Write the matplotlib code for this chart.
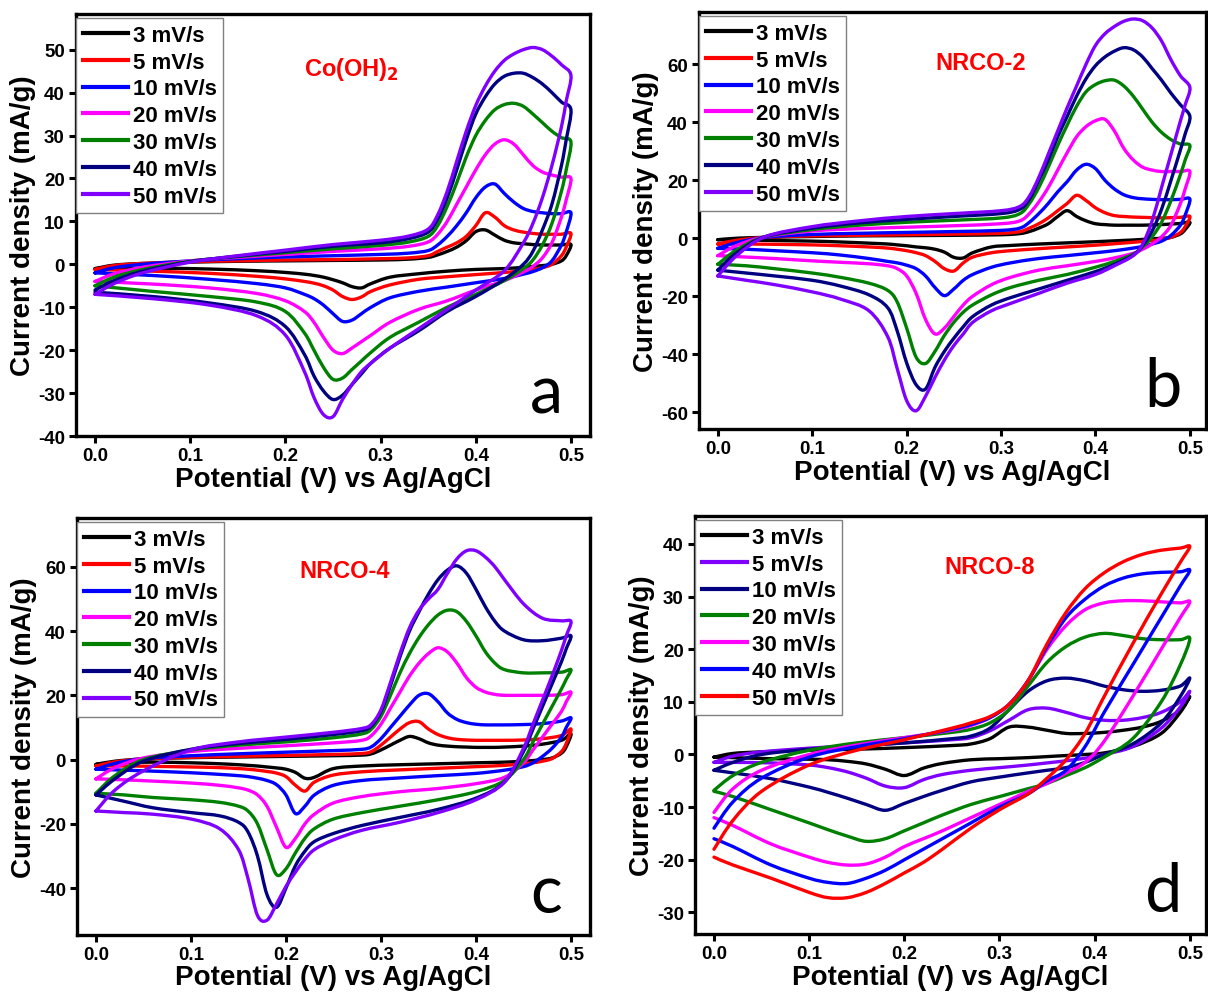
import matplotlib
matplotlib.use("Agg")
import matplotlib.pyplot as plt
from matplotlib.ticker import FormatStrFormatter
from matplotlib.path import Path
from matplotlib.patches import PathPatch
from matplotlib.lines import Line2D

plt.rcParams['font.family'] = ['Liberation Sans', 'DejaVu Sans']
plt.rcParams['font.weight'] = 'bold'
plt.rcParams['axes.unicode_minus'] = False

rates = ['3 mV/s', '5 mV/s', '10 mV/s', '20 mV/s', '30 mV/s', '40 mV/s', '50 mV/s']
colors_abc = ['#000000', '#ff0000', '#0000ff', '#ff00ff', '#008000', '#000080', '#7f00ff']
colors_d = ['#000000', '#7f00ff', '#000080', '#008000', '#ff00ff', '#0000ff', '#ff0000']

# ---- (a) Co(OH)2 ----
a_fwd_x = [0.0, 0.02, 0.05, 0.1, 0.15, 0.2, 0.25, 0.3, 0.33, 0.35, 0.36, 0.37, 0.38,
           0.39, 0.40, 0.41, 0.42, 0.43, 0.44, 0.45, 0.46, 0.47, 0.48, 0.49, 0.5]
a_rev_x = [0.5, 0.495, 0.49, 0.48, 0.47, 0.46, 0.45, 0.43, 0.4, 0.37, 0.34, 0.31, 0.29,
           0.28, 0.27, 0.26, 0.25, 0.24, 0.23, 0.22, 0.2, 0.17, 0.12, 0.06, 0.0]
a_fwd = [
    [-1.0, -0.2, 0.2, 0.5, 0.7, 0.8, 0.9, 1.0, 1.2, 1.6, 2.2, 3.0, 4.0, 5.5, 7.6, 8.0, 6.8, 5.6, 5.0, 4.8, 4.6, 4.5, 4.5, 4.5, 4.6],
    [-1.2, -0.3, 0.2, 0.6, 0.8, 1.0, 1.1, 1.3, 1.5, 2.0, 3.0, 4.0, 5.0, 6.5, 9.0, 12.0, 11.0, 9.0, 8.0, 7.5, 7.2, 7.0, 7.0, 7.0, 7.2],
    [-2.0, -0.8, 0.0, 0.8, 1.3, 1.7, 2.0, 2.3, 2.6, 3.2, 4.5, 6.5, 9.0, 12.0, 15.5, 18.0, 18.7, 16.5, 14.5, 13.0, 12.3, 12.0, 11.8, 11.8, 12.0],
    [-4.0, -2.2, -0.7, 0.8, 1.6, 2.3, 3.0, 3.6, 4.2, 5.2, 7.0, 10.0, 14.0, 18.0, 22.0, 25.5, 28.0, 29.0, 28.0, 25.5, 23.0, 21.5, 20.8, 20.3, 20.0],
    [-5.0, -3.0, -1.2, 0.7, 1.8, 2.7, 3.6, 4.4, 5.2, 6.5, 9.0, 13.5, 19.0, 25.0, 30.0, 33.5, 36.0, 37.2, 37.5, 36.8, 35.0, 33.0, 31.0, 29.5, 28.5],
    [-6.0, -3.8, -1.6, 0.6, 1.9, 3.0, 4.2, 5.0, 6.0, 7.5, 10.5, 15.5, 22.0, 29.0, 35.0, 39.0, 42.0, 43.8, 44.5, 44.5, 43.5, 42.0, 40.0, 37.8, 36.0],
    [-7.0, -4.5, -2.0, 0.5, 2.0, 3.3, 4.6, 5.6, 6.6, 8.2, 11.5, 17.0, 24.0, 31.0, 37.0, 41.5, 45.0, 47.5, 49.0, 50.0, 50.5, 50.0, 48.5, 46.5, 44.0],
]
a_rev = [
    [4.6, 2.0, 0.8, 0.0, -0.3, -0.5, -0.7, -1.0, -1.2, -1.6, -2.2, -3.0, -4.5, -5.5, -5.2, -4.3, -3.6, -3.0, -2.6, -2.3, -1.9, -1.5, -1.1, -0.9, -1.0],
    [7.2, 4.0, 2.0, 0.0, -0.8, -1.2, -1.5, -1.9, -2.4, -2.9, -3.5, -4.8, -6.3, -7.6, -8.2, -7.5, -6.0, -5.0, -4.4, -4.0, -3.4, -2.8, -2.1, -1.6, -1.2],
    [12.0, 7.5, 4.5, 0.8, -0.8, -1.7, -2.3, -3.3, -4.3, -5.3, -6.3, -7.8, -10.0, -11.5, -13.0, -13.3, -11.5, -9.5, -8.0, -7.0, -5.5, -4.5, -3.5, -2.6, -2.0],
    [20.0, 15.0, 11.0, 5.0, 1.5, -0.5, -1.8, -3.8, -6.0, -8.5, -10.5, -13.5, -16.5, -18.0, -19.5, -20.8, -20.0, -17.0, -13.5, -11.0, -8.5, -6.8, -5.5, -4.6, -4.0],
    [28.5, 22.0, 17.0, 9.5, 4.5, 1.0, -1.0, -3.8, -7.0, -10.0, -13.5, -17.0, -20.5, -22.5, -24.5, -26.5, -26.8, -24.0, -20.0, -16.0, -11.0, -8.8, -7.5, -6.3, -5.0],
    [36.0, 29.0, 23.0, 14.0, 8.0, 3.0, 0.0, -3.5, -7.5, -11.0, -15.5, -19.5, -23.0, -25.5, -28.0, -30.5, -31.5, -29.5, -26.0, -21.0, -14.5, -11.0, -9.0, -7.5, -6.5],
    [44.0, 38.0, 32.0, 23.0, 15.5, 9.5, 5.0, -1.5, -6.0, -10.5, -15.0, -19.5, -23.0, -25.0, -28.0, -31.5, -35.5, -35.0, -31.0, -25.0, -16.5, -12.0, -9.5, -8.0, -7.0],
]

# ---- (b) NRCO-2 ----
b_fwd_x = [0.0, 0.02, 0.05, 0.1, 0.15, 0.2, 0.25, 0.3, 0.32, 0.33, 0.34, 0.35, 0.36, 0.37,
           0.38, 0.39, 0.40, 0.41, 0.42, 0.43, 0.44, 0.45, 0.46, 0.47, 0.48, 0.49, 0.5]
b_rev_x = [0.5, 0.495, 0.49, 0.48, 0.47, 0.46, 0.45, 0.44, 0.42, 0.4, 0.37, 0.34, 0.31, 0.29,
           0.27, 0.26, 0.25, 0.24, 0.23, 0.22, 0.21, 0.2, 0.19, 0.18, 0.16, 0.13, 0.1, 0.06, 0.03, 0.0]
b_fwd = [
    [-0.5, 0.0, 0.3, 0.6, 0.8, 0.9, 1.0, 1.2, 1.6, 2.3, 3.5, 5.0, 7.5, 9.5, 7.5, 6.0, 5.0, 4.7, 4.5, 4.5, 4.5, 4.5, 4.6, 4.7, 4.9, 5.1, 5.5],
    [-2.0, -0.7, 0.3, 0.8, 1.0, 1.2, 1.4, 1.7, 2.3, 3.5, 5.0, 7.0, 9.5, 12.0, 14.8, 13.0, 10.5, 8.8, 7.8, 7.5, 7.3, 7.2, 7.1, 7.0, 7.1, 7.2, 7.5],
    [-3.5, -1.5, 0.3, 1.3, 1.7, 2.0, 2.3, 2.7, 3.5, 5.5, 8.5, 12.0, 16.0, 19.5, 23.5, 25.5, 24.0, 20.0, 17.0, 15.0, 14.0, 13.6, 13.4, 13.3, 13.3, 13.4, 13.5],
    [-6.0, -2.5, 0.5, 2.5, 3.3, 3.8, 4.3, 5.0, 6.0, 8.5, 12.5, 17.5, 23.5, 29.5, 35.0, 38.5, 40.5, 41.0, 37.0, 31.0, 27.0, 24.5, 23.5, 23.0, 23.0, 23.0, 23.0],
    [-9.0, -4.0, 0.5, 3.0, 4.5, 5.5, 6.2, 7.0, 8.5, 12.0, 17.5, 24.5, 32.0, 39.0, 45.5, 50.5, 53.0, 54.3, 54.5, 52.5, 49.0, 44.5, 40.0, 36.5, 34.0, 32.5, 32.0],
    [-11.0, -5.0, 0.5, 3.5, 5.3, 6.5, 7.5, 8.5, 10.0, 13.5, 20.0, 27.0, 35.0, 42.0, 49.0, 55.0, 59.5, 62.5, 64.5, 65.7, 65.0, 62.5, 58.5, 54.5, 50.0, 46.0, 42.0],
    [-13.0, -6.0, 0.5, 4.0, 6.0, 7.5, 8.5, 9.5, 11.0, 14.5, 21.0, 29.0, 37.0, 45.0, 52.5, 60.0, 66.5, 70.5, 73.0, 74.8, 75.6, 75.0, 72.5, 68.0, 61.5, 56.0, 52.0],
]
b_rev = [
    [5.5, 3.0, 1.5, 0.3, 0.0, -0.2, -0.4, -0.6, -0.9, -1.2, -1.6, -2.0, -2.5, -3.0, -5.0, -6.8, -6.6, -4.8, -3.8, -3.3, -3.0, -2.6, -2.3, -2.0, -1.7, -1.3, -1.0, -0.8, -0.6, -0.5],
    [7.5, 4.0, 2.0, 0.3, -0.4, -0.8, -1.1, -1.4, -1.9, -2.4, -3.0, -3.6, -4.3, -5.0, -6.5, -8.5, -11.3, -10.5, -8.0, -6.0, -5.0, -4.3, -3.8, -3.4, -3.0, -2.6, -2.3, -2.1, -2.0, -2.0],
    [13.5, 8.0, 4.5, 1.0, -1.0, -2.0, -2.8, -3.4, -4.3, -5.0, -6.0, -7.0, -8.5, -10.0, -12.5, -14.5, -17.5, -19.8, -17.0, -13.0, -10.5, -9.3, -8.5, -8.0, -7.0, -5.8, -5.0, -4.3, -3.8, -3.5],
    [23.0, 17.0, 12.0, 4.5, 0.5, -2.0, -3.8, -5.2, -6.8, -8.0, -9.5, -11.0, -13.5, -16.0, -20.0, -23.0, -27.0, -31.0, -33.0, -28.0, -19.0, -13.0, -10.5, -9.5, -8.8, -8.3, -7.8, -7.0, -6.5, -6.0],
    [32.0, 27.0, 22.0, 13.0, 5.5, 0.5, -3.0, -5.5, -8.0, -10.0, -12.5, -14.5, -17.0, -19.5, -23.0, -25.5, -29.0, -33.5, -39.0, -43.2, -41.0, -31.0, -22.0, -18.0, -15.5, -13.5, -12.0, -10.5, -9.5, -9.0],
    [42.0, 36.0, 30.5, 20.0, 10.0, 2.5, -2.5, -5.8, -9.0, -11.5, -14.5, -17.5, -20.5, -23.0, -27.0, -30.5, -34.5, -39.0, -44.5, -52.0, -50.5, -43.0, -32.0, -24.0, -19.5, -16.5, -14.5, -13.0, -12.0, -11.0],
    [52.0, 46.0, 40.5, 29.0, 17.5, 6.0, -2.0, -6.0, -9.5, -12.5, -15.5, -19.0, -22.5, -25.0, -29.0, -33.0, -37.0, -42.0, -48.0, -54.5, -59.5, -56.0, -45.0, -34.0, -25.0, -21.0, -18.5, -16.0, -14.5, -13.0],
]

# ---- (c) NRCO-4 ----
c_fwd_x = [0.0, 0.02, 0.05, 0.1, 0.15, 0.2, 0.25, 0.28, 0.29, 0.30, 0.31, 0.32, 0.33, 0.34,
           0.35, 0.36, 0.37, 0.38, 0.39, 0.40, 0.41, 0.42, 0.43, 0.45, 0.47, 0.49, 0.5]
c_rev_x = [0.5, 0.495, 0.49, 0.48, 0.47, 0.46, 0.45, 0.43, 0.4, 0.36, 0.32, 0.28, 0.25, 0.23,
           0.22, 0.21, 0.20, 0.19, 0.18, 0.17, 0.16, 0.15, 0.13, 0.1, 0.06, 0.03, 0.0]
c_fwd = [
    [-1.5, -0.5, 0.2, 0.6, 0.8, 1.0, 1.2, 1.4, 1.8, 3.0, 4.5, 6.0, 7.2, 6.5, 5.2, 4.5, 4.2, 4.0, 3.9, 3.8, 3.8, 3.8, 3.9, 4.2, 4.8, 6.0, 8.0],
    [-2.0, -0.7, 0.2, 0.7, 1.0, 1.3, 1.6, 1.9, 2.5, 4.5, 7.0, 9.5, 11.5, 11.8, 9.5, 7.8, 6.8, 6.3, 6.1, 6.0, 6.0, 6.0, 6.0, 6.1, 6.5, 7.5, 9.5],
    [-3.0, -1.2, 0.3, 1.2, 1.8, 2.3, 2.8, 3.2, 4.0, 6.5, 10.0, 13.5, 17.0, 20.0, 20.5, 18.0, 14.5, 12.5, 11.5, 11.0, 10.8, 10.8, 10.8, 10.9, 11.2, 12.0, 13.0],
    [-6.0, -2.5, 0.5, 2.5, 3.5, 4.3, 5.2, 6.0, 7.5, 11.0, 16.0, 21.0, 26.0, 30.0, 33.0, 34.8, 33.5, 30.0, 25.5, 22.5, 21.0, 20.3, 20.0, 20.0, 20.0, 20.2, 21.0],
    [-10.5, -5.0, 0.0, 3.0, 4.5, 5.5, 6.8, 8.0, 9.5, 13.5, 20.0, 27.0, 33.0, 38.0, 42.0, 45.0, 46.5, 46.0, 43.0, 38.5, 33.5, 30.0, 28.0, 27.0, 27.0, 27.2, 28.0],
    [-11.0, -6.0, -0.5, 3.2, 5.0, 6.3, 7.8, 9.0, 10.5, 15.0, 23.0, 32.0, 40.0, 46.0, 51.5, 56.0, 59.0, 60.3, 58.0, 53.0, 47.5, 43.0, 40.0, 37.3, 37.0, 37.8, 38.5],
    [-16.0, -9.5, -3.5, 3.0, 5.5, 7.0, 8.5, 9.7, 11.0, 15.5, 24.0, 33.0, 41.0, 46.5, 50.0, 53.0, 58.0, 62.5, 65.0, 65.0, 63.0, 60.0, 56.0, 48.5, 44.0, 43.2, 43.0],
]
c_rev = [
    [8.0, 4.0, 2.0, 0.5, 0.0, -0.3, -0.5, -0.8, -1.0, -1.3, -1.6, -2.0, -2.8, -5.5, -5.8, -4.0, -3.0, -2.6, -2.3, -2.0, -1.8, -1.6, -1.3, -1.0, -0.8, -1.0, -1.5],
    [9.5, 5.0, 2.5, 0.3, -0.5, -1.0, -1.3, -1.8, -2.2, -2.7, -3.2, -3.8, -4.8, -7.0, -9.8, -8.0, -5.3, -4.2, -3.7, -3.3, -3.0, -2.8, -2.5, -2.3, -2.1, -2.0, -2.0],
    [13.0, 10.0, 7.0, 3.5, 1.0, -1.0, -2.2, -3.3, -4.3, -5.0, -5.7, -6.5, -8.0, -11.0, -14.5, -16.8, -11.0, -7.8, -6.5, -5.8, -5.3, -5.0, -4.6, -4.1, -3.6, -3.3, -3.0],
    [21.0, 18.0, 15.0, 11.0, 7.0, 3.0, -1.0, -5.5, -7.5, -9.0, -10.0, -11.5, -13.5, -17.0, -20.0, -24.5, -27.3, -21.0, -14.5, -11.0, -9.5, -8.8, -8.0, -7.3, -6.7, -6.3, -6.0],
    [28.0, 25.0, 22.0, 16.5, 11.0, 5.5, 0.0, -6.5, -10.0, -12.5, -14.5, -16.5, -18.5, -21.5, -24.5, -29.0, -34.0, -35.8, -28.0, -20.0, -16.0, -14.5, -13.3, -12.5, -11.8, -11.0, -10.5],
    [38.5, 34.5, 30.5, 23.5, 16.5, 9.5, 2.5, -7.0, -12.0, -15.5, -18.0, -20.5, -23.0, -25.5, -28.5, -33.0, -40.0, -46.0, -42.0, -30.0, -22.5, -19.5, -17.5, -16.5, -15.0, -13.0, -11.0],
    [43.0, 38.5, 34.0, 26.0, 18.5, 11.0, 3.5, -7.0, -12.5, -16.5, -19.5, -22.0, -25.0, -28.0, -31.0, -35.0, -39.5, -45.0, -50.0, -48.5, -37.0, -28.0, -21.5, -18.5, -17.0, -16.5, -16.0],
]

# ---- (d) NRCO-8 ----
d_fwd_x = [0.0, 0.02, 0.05, 0.1, 0.15, 0.2, 0.25, 0.27, 0.29, 0.31, 0.33, 0.35, 0.37, 0.39,
           0.41, 0.43, 0.45, 0.47, 0.49, 0.5]
d_rev_x = [0.5, 0.49, 0.47, 0.44, 0.41, 0.39, 0.37, 0.35, 0.33, 0.3, 0.27, 0.24, 0.22, 0.2,
           0.18, 0.16, 0.14, 0.12, 0.1, 0.06, 0.02, 0.0]
d_fwd = [
    [-0.5, 0.2, 0.5, 0.8, 1.0, 1.3, 1.7, 2.0, 3.0, 5.2, 5.2, 4.6, 4.0, 4.0, 4.2, 4.6, 5.2, 6.3, 8.5, 11.0],
    [-1.5, -0.3, 0.5, 1.2, 1.7, 2.2, 2.8, 3.2, 4.5, 6.5, 8.5, 8.8, 8.0, 7.0, 6.5, 6.5, 7.0, 8.0, 10.0, 12.0],
    [-3.0, -1.5, 0.0, 1.0, 1.6, 2.2, 3.0, 3.5, 5.0, 8.5, 12.0, 14.0, 14.5, 14.0, 13.0, 12.3, 12.0, 12.2, 13.0, 14.5],
    [-6.8, -4.0, -1.5, 0.8, 2.2, 3.2, 4.2, 4.8, 6.0, 8.5, 13.0, 17.5, 20.5, 22.3, 23.0, 22.6, 22.0, 21.8, 21.8, 22.0],
    [-11.0, -6.5, -3.0, 0.0, 1.8, 3.2, 4.6, 5.5, 7.0, 9.5, 14.0, 20.0, 24.5, 27.5, 28.8, 29.2, 29.2, 29.0, 28.8, 29.0],
    [-14.0, -9.0, -4.5, -0.5, 1.5, 3.0, 4.8, 5.7, 7.0, 9.5, 14.0, 20.5, 26.0, 29.5, 32.0, 33.5, 34.3, 34.6, 34.7, 35.0],
    [-18.0, -12.5, -7.0, -2.0, 0.8, 2.8, 5.0, 6.0, 7.2, 9.5, 14.0, 21.0, 27.0, 31.5, 34.5, 36.6, 38.0, 38.8, 39.2, 39.5],
]
d_rev = [
    [11.0, 8.0, 4.0, 1.5, 0.3, 0.0, -0.2, -0.4, -0.6, -0.8, -1.0, -1.7, -2.6, -4.0, -2.8, -1.8, -1.3, -1.0, -0.9, -0.8, -0.6, -0.5],
    [12.0, 9.0, 5.0, 1.5, 0.0, -0.7, -1.2, -1.6, -2.0, -2.5, -3.0, -3.8, -4.8, -6.3, -6.0, -4.5, -3.3, -2.5, -2.0, -1.6, -1.5, -1.5],
    [14.5, 11.0, 6.0, 2.0, 0.0, -1.5, -2.5, -3.0, -3.5, -4.3, -5.2, -6.8, -8.0, -9.3, -10.6, -9.5, -8.3, -7.2, -6.2, -4.6, -3.5, -3.0],
    [22.0, 17.0, 10.0, 3.0, -0.5, -2.5, -4.0, -5.5, -6.5, -8.0, -9.5, -11.5, -13.0, -14.5, -16.0, -16.5, -15.5, -14.3, -13.0, -10.5, -8.0, -7.0],
    [29.0, 26.0, 20.0, 11.0, 2.5, -1.5, -3.5, -5.5, -7.0, -9.5, -12.0, -14.5, -16.0, -17.5, -19.5, -20.8, -21.0, -20.5, -19.5, -17.0, -13.5, -12.0],
    [35.0, 32.0, 26.0, 17.0, 8.0, 1.5, -3.0, -5.0, -7.5, -10.0, -13.0, -16.0, -18.0, -20.0, -22.0, -23.5, -24.5, -24.3, -23.5, -21.0, -17.5, -16.0],
    [39.5, 36.5, 30.5, 21.0, 11.0, 4.0, -1.0, -4.5, -7.5, -10.5, -14.0, -18.0, -20.5, -22.5, -24.5, -26.2, -27.2, -27.2, -26.2, -23.5, -21.0, -19.5],
]


def smooth_path(xs, ys):
    # cubic Bezier segments through every measured point (Catmull-Rom tangents)
    n = len(xs)
    verts = [(xs[0], ys[0])]
    codes = [Path.MOVETO]
    for i in range(n - 1):
        i0 = max(i - 1, 0)
        i3 = min(i + 2, n - 1)
        c1 = (xs[i] + (xs[i + 1] - xs[i0]) / 6.0, ys[i] + (ys[i + 1] - ys[i0]) / 6.0)
        c2 = (xs[i + 1] - (xs[i3] - xs[i]) / 6.0, ys[i + 1] - (ys[i3] - ys[i]) / 6.0)
        verts += [c1, c2, (xs[i + 1], ys[i + 1])]
        codes += [Path.CURVE4] * 3
    return Path(verts, codes)


def draw_panel(ax, fwd_x, rev_x, fwd, rev, colors, xlim, ylim, yticks, name, letter, name_pos):
    handles = []
    for k in range(len(rates)):
        xs = fwd_x + rev_x[1:]
        ys = fwd[k] + rev[k][1:]
        ax.add_patch(PathPatch(smooth_path(xs, ys), fill=False, edgecolor=colors[k],
                               lw=2.4, joinstyle='round', capstyle='round'))
        handles.append(Line2D([], [], color=colors[k], lw=3.0, label=rates[k]))
    ax.set_xlim(*xlim)
    ax.set_ylim(*ylim)
    ax.set_xticks([0.0, 0.1, 0.2, 0.3, 0.4, 0.5])
    ax.xaxis.set_major_formatter(FormatStrFormatter('%.1f'))
    ax.set_yticks(yticks)
    for sp in ax.spines.values():
        sp.set_linewidth(2.4)
    ax.tick_params(direction='out', length=5, width=2.2, labelsize=13.5, pad=3)
    for lab in ax.get_xticklabels() + ax.get_yticklabels():
        lab.set_fontweight('bold')
    ax.set_xlabel('Potential (V) vs Ag/AgCl', fontsize=20, fontweight='bold', labelpad=1)
    ax.set_ylabel('Current density (mA/g)', fontsize=20, fontweight='bold', labelpad=1)
    ax.text(name_pos[0], name_pos[1], name, transform=ax.transAxes, color='#ff0000',
            fontsize=17, fontweight='bold', ha='center', va='center')
    ax.text(0.915, 0.1, letter, transform=ax.transAxes, fontsize=48, fontweight='normal',
            family=['Lato', 'DejaVu Sans'], ha='center', va='center')
    leg = ax.legend(handles=handles, loc='upper left', bbox_to_anchor=(0.0, 0.99), fontsize=16,
                    handlelength=2.05, handletextpad=0.2, labelspacing=0.26,
                    borderpad=0.3, borderaxespad=0.0, fancybox=False, framealpha=1)
    leg.get_frame().set_edgecolor('#808080')
    leg.get_frame().set_linewidth(1.0)
    for t in leg.get_texts():
        t.set_fontweight('bold')


fig = plt.figure(figsize=(12.08, 9.95), dpi=100)
ax_a = fig.add_axes([0.0629, 0.5608, 0.4255, 0.4241])
ax_b = fig.add_axes([0.5786, 0.5678, 0.4197, 0.4191])
ax_c = fig.add_axes([0.0637, 0.0593, 0.4247, 0.4191])
ax_d = fig.add_axes([0.5753, 0.0603, 0.4230, 0.4201])

draw_panel(ax_a, a_fwd_x, a_rev_x, a_fwd, a_rev, colors_abc, (-0.02, 0.52), (-40, 58.3),
           range(-40, 51, 10), 'Co(OH)$_\\mathbf{2}$', 'a', (0.535, 0.87))
draw_panel(ax_b, b_fwd_x, b_rev_x, b_fwd, b_rev, colors_abc, (-0.02, 0.517), (-65.8, 78),
           range(-60, 61, 20), 'NRCO-2', 'b', (0.555, 0.878))
draw_panel(ax_c, c_fwd_x, c_rev_x, c_fwd, c_rev, colors_abc, (-0.02, 0.52), (-54.6, 75.2),
           range(-40, 61, 20), 'NRCO-4', 'c', (0.522, 0.873))
draw_panel(ax_d, d_fwd_x, d_rev_x, d_fwd, d_rev, colors_d, (-0.02, 0.517), (-34.1, 45.3),
           range(-30, 41, 10), 'NRCO-8', 'd', (0.577, 0.878))

fig.savefig('out.png', dpi=100)
